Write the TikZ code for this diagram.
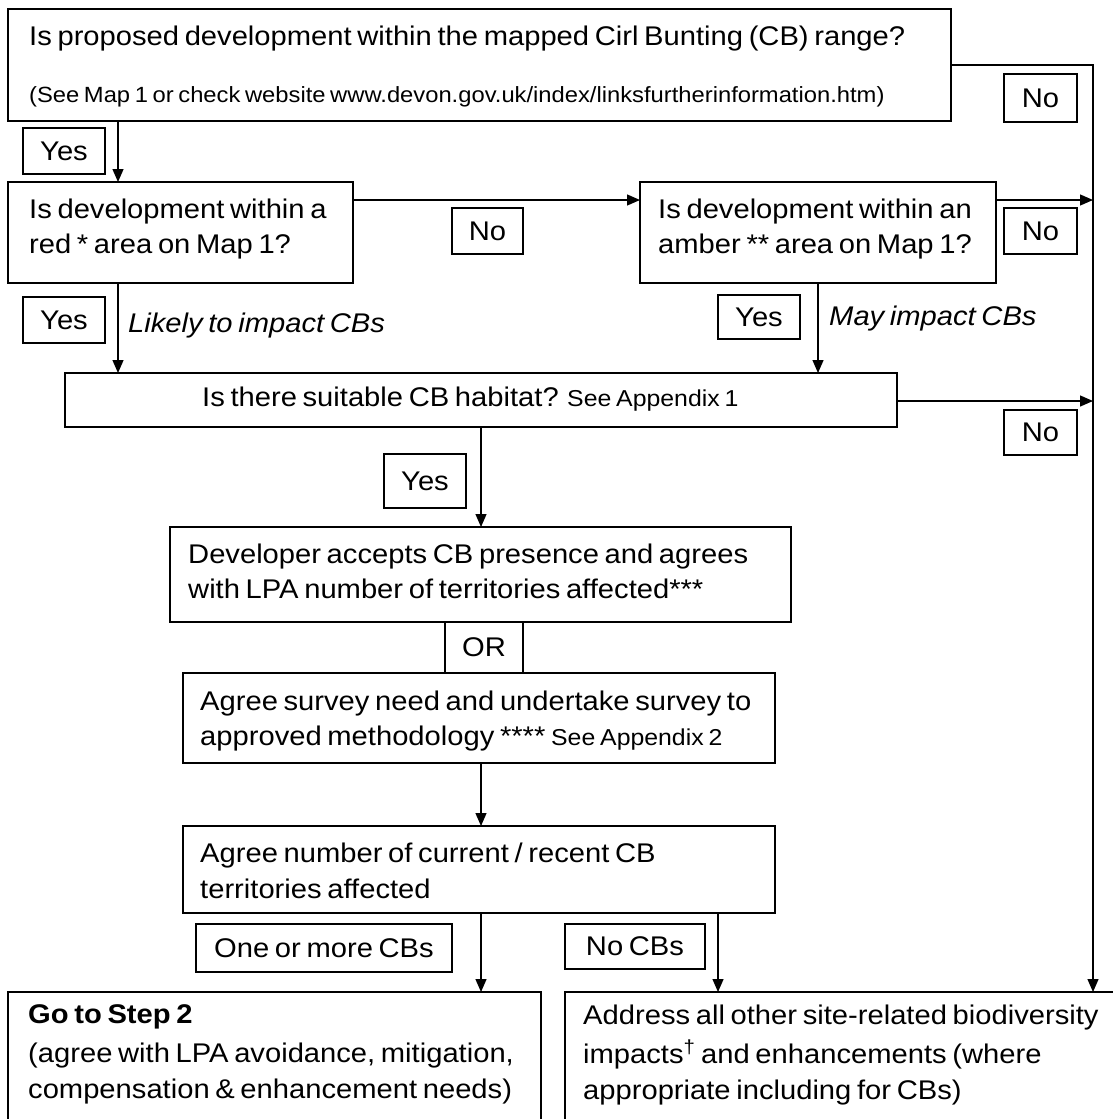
\documentclass[tikz,border=0pt]{standalone}
\usepackage{fontspec}
\setmainfont{Liberation Sans}[FakeStretch=1.08, WordSpace=0.7]
\usetikzlibrary{arrows.meta}
\newcommand{\tsize}[1]{\fontsize{#1}{#1}\selectfont}
\begin{document}
\begin{tikzpicture}[x=1pt,y=-1pt,
  box/.style={draw, line width=1.5pt, inner sep=0pt, outer sep=0pt, anchor=north west},
  lbl/.style={draw, line width=1.5pt, inner sep=0pt, outer sep=0pt, anchor=north west, font=\tsize{27}},
  txt/.style={inner sep=0pt, anchor=base west, font=\tsize{27}},
  itxt/.style={inner sep=0pt, anchor=base west, font=\tsize{27}\itshape},
  arr/.style={line width=1.3pt, -{Triangle[length=13pt,width=11pt]}},
  ln/.style={line width=1.3pt}]
\useasboundingbox (0,0) rectangle (1113,1119);
\fill[white] (0,0) rectangle (1113,1119);

% main boxes
\node[box, minimum width=943pt, minimum height=112pt] (top) at (8,9) {};
\node[box, minimum width=345pt, minimum height=101pt] (red) at (8,182) {};
\node[box, minimum width=356pt, minimum height=101pt] (amber) at (640,182) {};
\node[box, minimum width=832pt, minimum height=54pt] (hab) at (65,373) {};
\node[box, minimum width=621pt, minimum height=95pt] (dev) at (170,527) {};
\node[box, minimum width=78pt, minimum height=51pt] (or) at (445,622) {};
\node[box, minimum width=592pt, minimum height=90pt] (survey) at (183,673) {};
\node[box, minimum width=592pt, minimum height=87pt] (agree) at (183,826) {};
\node[box, minimum width=533pt, minimum height=160pt] (step) at (8,992) {};
\node[box, minimum width=580pt, minimum height=160pt] (addr) at (565,992) {};

% texts in boxes
\node[txt] (t1a) at (29,45) {Is proposed development within the mapped Cirl Bunting (CB) range?};
\node[txt, font=\tsize{22}] (t1b) at (29,102) {(See Map 1 or check website www.devon.gov.uk/index/linksfurtherinformation.htm)};
\node[txt] (t2a) at (29,218) {Is development within a};
\node[txt] (t2b) at (29,253) {red * area on Map 1?};
\node[txt] (t3a) at (658,218) {Is development within an};
\node[txt] (t3b) at (658,253) {amber ** area on Map 1?};
\node[txt] (t4) at (202,406) {Is there suitable CB habitat? {\tsize{23}See Appendix 1}};
\node[txt] (t5a) at (188,563) {Developer accepts CB presence and agrees};
\node[txt] (t5b) at (188,598) {with LPA number of territories affected***};
\node[txt, anchor=base] (tor) at (484,656) {OR};
\node[txt] (t6a) at (200,710) {Agree survey need and undertake survey to};
\node[txt] (t6b) at (200,745) {approved methodology **** {\tsize{23}See Appendix 2}};
\node[txt] (t7a) at (200,862) {Agree number of current / recent CB};
\node[txt] (t7b) at (200,898) {territories affected};
\node[txt, font=\tsize{27}\bfseries] (t8a) at (28,1023) {Go to Step 2};
\node[txt] (t8b) at (28,1062) {(agree with LPA avoidance, mitigation,};
\node[txt] (t8c) at (28,1098) {compensation \& enhancement needs)};
\node[txt] (t9a) at (583,1024) {Address all other site-related biodiversity};
\node[txt] (t9b) at (583,1063) {impacts\textsuperscript{†} and enhancements (where};
\node[txt] (t9c) at (583,1099) {appropriate including for CBs)};

% label boxes
\node[lbl, minimum width=82pt, minimum height=46pt] (yes1) at (23,128) {Yes};
\node[lbl, minimum width=82pt, minimum height=46pt] (yes2) at (23,297) {Yes};
\node[lbl, minimum width=71pt, minimum height=46pt] (nomid) at (452,208) {No};
\node[lbl, minimum width=73pt, minimum height=48pt] (no1) at (1004,74) {No};
\node[lbl, minimum width=73pt, minimum height=46pt] (no2) at (1004,208) {No};
\node[lbl, minimum width=82pt, minimum height=44pt] (yes3) at (718,295) {Yes};
\node[lbl, minimum width=73pt, minimum height=45pt] (no3) at (1004,410) {No};
\node[lbl, minimum width=82pt, minimum height=54pt] (yes4) at (384,454) {Yes};
\node[lbl, minimum width=256pt, minimum height=48pt] (one) at (196,924) {One or more CBs};
\node[lbl, minimum width=140pt, minimum height=45pt] (nocb) at (565,924) {No CBs};

\node[itxt] (lik) at (128,332) {Likely to impact CBs};
\node[itxt] (may) at (829,325) {May impact CBs};

% helper coordinates
\coordinate (xa) at (118,0);
\coordinate (xb) at (818,0);
\coordinate (xc) at (481,0);
\coordinate (xd) at (718,0);
\coordinate (ya) at (0,200);
\coordinate (yb) at (0,401);
\coordinate (trunk) at (1093,65);

% connectors
\draw[arr] (top.south -| xa) -- (red.north -| xa);
\draw[arr] (red.east |- ya) -- (amber.west |- ya);
\draw[arr] (amber.east |- ya) -- (trunk |- ya);
\draw[arr] (red.south -| xa) -- (hab.north -| xa);
\draw[arr] (amber.south -| xb) -- (hab.north -| xb);
\draw[arr] (hab.east |- yb) -- (trunk |- yb);
\draw[arr] (hab.south -| xc) -- (dev.north -| xc);
\draw[arr] (survey.south -| xc) -- (agree.north -| xc);
\draw[arr] (agree.south -| xc) -- (step.north -| xc);
\draw[arr] (agree.south -| xd) -- (addr.north -| xd);
\draw[arr] (top.east |- trunk) -| (addr.north -| trunk);
\end{tikzpicture}
\end{document}
